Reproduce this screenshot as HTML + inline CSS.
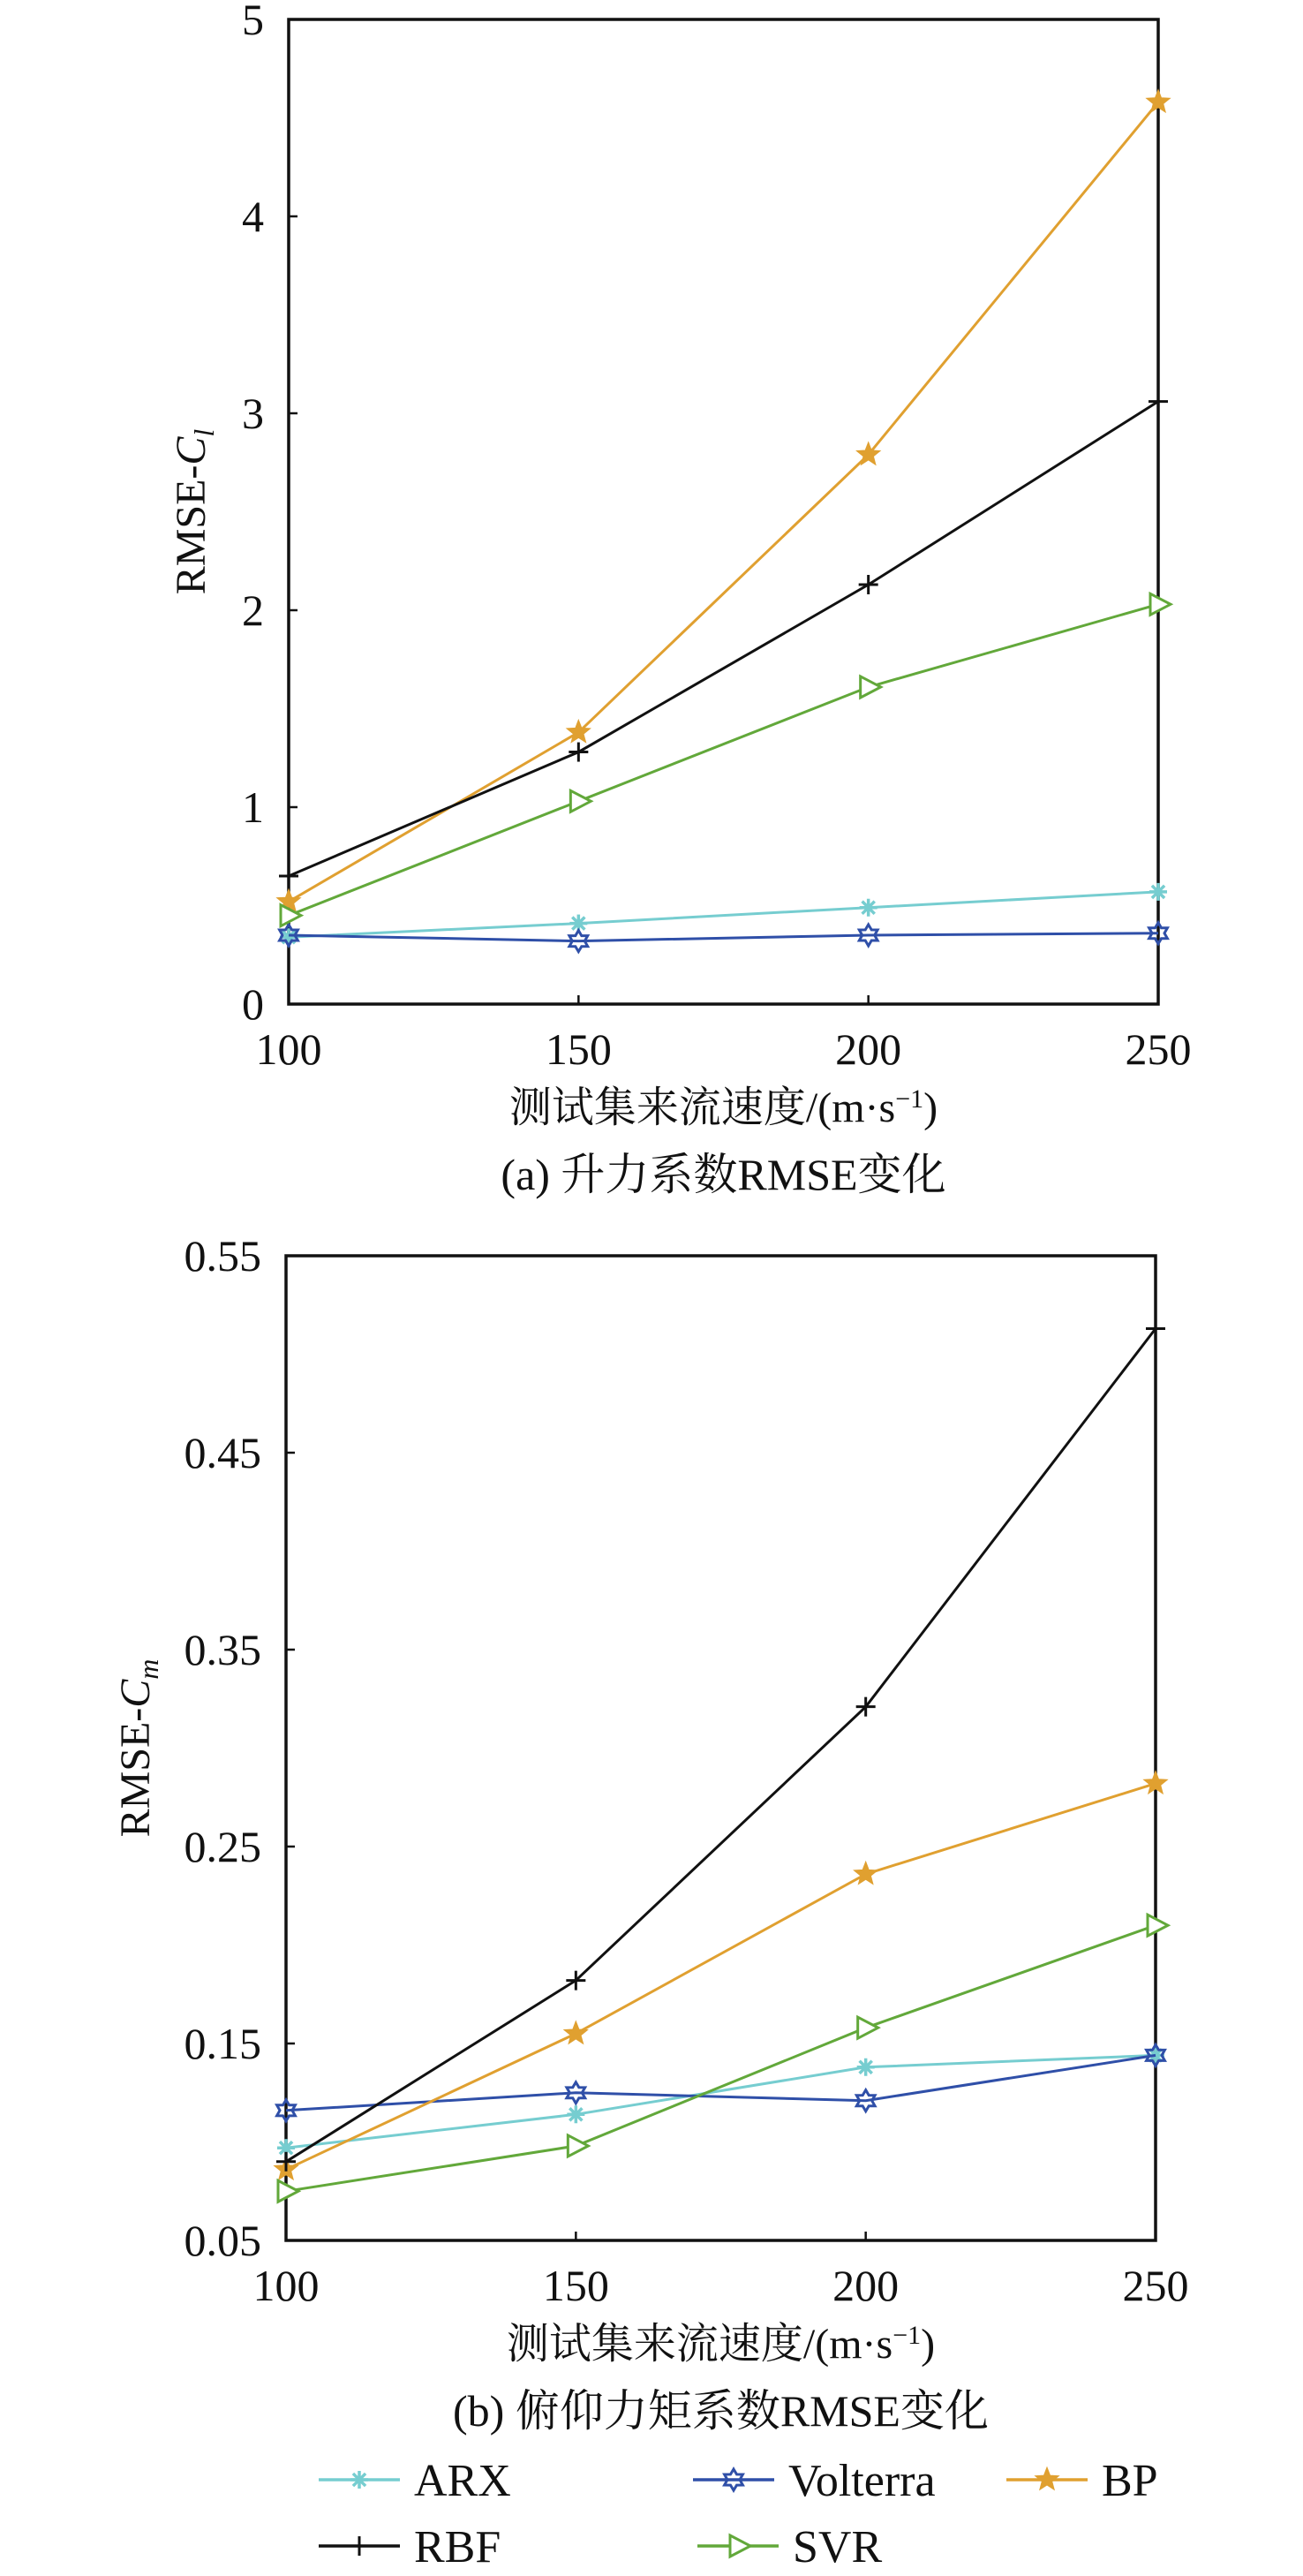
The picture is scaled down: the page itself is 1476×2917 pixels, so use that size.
<!DOCTYPE html>
<html><head><meta charset="utf-8">
<style>
html,body{margin:0;padding:0;background:#fff;}
svg{display:block;}
text{font-family:"Liberation Serif","Noto Serif CJK SC","Noto Sans CJK SC",serif;fill:#111;}
</style></head>
<body>
<svg id="fig" width="1476" height="2917" viewBox="0 0 1476 2917" xmlns="http://www.w3.org/2000/svg"></svg>
<script>
const categories = [100, 150, 200, 250];
const seriesNames = ["ARX", "Volterra", "BP", "RBF", "SVR"];
const clARX = [0.34, 0.41, 0.49, 0.57];
const clVolterra = [0.35, 0.32, 0.35, 0.36];
const clBP = [0.52, 1.38, 2.79, 4.58];
const clRBF = [0.65, 1.28, 2.13, 3.06];
const clSVR = [0.45, 1.03, 1.61, 2.03];
const cmARX = [0.097, 0.114, 0.138, 0.144];
const cmVolterra = [0.116, 0.125, 0.121, 0.144];
const cmBP = [0.086, 0.155, 0.236, 0.282];
const cmRBF = [0.090, 0.182, 0.321, 0.513];
const cmSVR = [0.075, 0.098, 0.158, 0.210];
const clTicks = [0, 1, 2, 3, 4, 5];
const clTickLabels = ["0", "1", "2", "3", "4", "5"];
const cmTicks = [0.05, 0.15, 0.25, 0.35, 0.45, 0.55];
const cmTickLabels = ["0.05", "0.15", "0.25", "0.35", "0.45", "0.55"];

const NS = "http://www.w3.org/2000/svg";
const svg = document.getElementById("fig");
const colors = {ARX:"#76cdd0", Volterra:"#2f4fa8", BP:"#e0a030", RBF:"#111111", SVR:"#62a83a"};
const markerType = {ARX:"asterisk", Volterra:"hexagram", BP:"star", RBF:"plus", SVR:"triangle"};

function mk(tag, attrs, parent){
  const e = document.createElementNS(NS, tag);
  for (const k in attrs) e.setAttribute(k, attrs[k]);
  (parent||svg).appendChild(e);
  return e;
}
function starPts(cx, cy, n, ro, ri, rot){
  const p=[];
  for(let i=0;i<2*n;i++){const r=i%2?ri:ro;const a=rot+i*Math.PI/n;p.push((cx+r*Math.sin(a)).toFixed(1)+","+(cy-r*Math.cos(a)).toFixed(1));}
  return p.join(" ");
}
function marker(g, type, x, y, c){
  let m;
  if(type==="asterisk"){
    m = mk("g",{stroke:c,"stroke-width":3.5},g);
    for(let i=0;i<4;i++){const a=i*Math.PI/4;mk("line",{x1:x-10*Math.cos(a),y1:y-10*Math.sin(a),x2:x+10*Math.cos(a),y2:y+10*Math.sin(a)},m);}
  } else if(type==="hexagram"){
    m = mk("g",{fill:"none",stroke:c,"stroke-width":3},g);
    mk("polygon",{points:starPts(x,y,6,12,7,0)},m);
  } else if(type==="star"){
    m = mk("polygon",{points:starPts(x,y,5,14,6,0),fill:c,stroke:c,"stroke-width":1},g);
  } else if(type==="plus"){
    m = mk("g",{stroke:c,"stroke-width":3},g);
    mk("line",{x1:x-11,y1:y,x2:x+11,y2:y},m);
    mk("line",{x1:x,y1:y-11,x2:x,y2:y+11},m);
  } else {
    m = mk("polygon",{points:`${x-9},${y-12} ${x+14},${y} ${x-9},${y+12}`,fill:"#fff",stroke:c,"stroke-width":3},g);
  }
  return m;
}

function chart(opt){
  const {left,right,top,bottom,ymin,ymax,ticks,tickLabels,data,ylabelSub,ylabelOffset,title,key} = opt;
  const g = mk("g",{});
  
  
  const xs = v => left + (v-categories[0])/(categories[categories.length-1]-categories[0])*(right-left);
  const ys = v => bottom - (v-ymin)/(ymax-ymin)*(bottom-top);
  const frame = mk("rect",{x:left,y:top,width:right-left,height:bottom-top,fill:"none",stroke:"#111","stroke-width":3.5},g);
  
  
  ticks.forEach((t,i)=>{
    const y = ys(t);
    const tl = mk("line",{x1:left,y1:y,x2:left+10,y2:y,stroke:"#111","stroke-width":2.5},g);
    
    
    const tx = mk("text",{x:left-28,y:y+17,"text-anchor":"end","font-size":50},g);
    tx.textContent = tickLabels[i];
    
    
  });
  categories.forEach(c=>{
    const x = xs(c);
    const tl = mk("line",{x1:x,y1:bottom,x2:x,y2:bottom-10,stroke:"#111","stroke-width":2.5},g);
    
    
    const tx = mk("text",{x:x,y:bottom+68,"text-anchor":"middle","font-size":50},g);
    tx.textContent = String(c);
    
    
  });
  const xl = mk("text",{x:(left+right)/2,y:bottom+133,"text-anchor":"middle","font-size":48},g);
  xl.innerHTML = '测试集来流速度/(m·s<tspan dy="-16" font-size="30">−1</tspan><tspan dy="16">)</tspan>';
  
  
  const cy = (top+bottom)/2;
  const yl = mk("text",{x:0,y:0,"text-anchor":"middle","font-size":48,transform:`translate(${left-ylabelOffset},${cy}) rotate(-90)`},g);
  yl.innerHTML = 'RMSE-<tspan font-style="italic">C</tspan><tspan font-style="italic" font-size="32" dy="10">'+ylabelSub+'</tspan>';
  
  
  const tt = mk("text",{x:(left+right)/2,y:bottom+210,"text-anchor":"middle","font-size":50},g);
  tt.textContent = title;
  
  
  seriesNames.forEach((name,si)=>{
    const vals = data[si];
    const c = colors[name];
    const sg = mk("g",{},g);
    
    
    const pts = vals.map((v,i)=>xs(categories[i]).toFixed(1)+","+ys(v).toFixed(1)).join(" ");
    const pl = mk("polyline",{points:pts,fill:"none",stroke:c,"stroke-width":3},sg);
    
    
    vals.forEach((v,i)=>{
      const m = marker(sg, markerType[name], xs(categories[i]), ys(v), c);
      
      
    });
  });
}

chart({left:327,right:1312,top:22,bottom:1137,ymin:0,ymax:5,ticks:clTicks,tickLabels:clTickLabels,
  data:[clARX,clVolterra,clBP,clRBF,clSVR],ylabelSub:"l",ylabelOffset:95,title:"(a) 升力系数RMSE变化",key:"cl"});
chart({left:324,right:1309,top:1422,bottom:2537,ymin:0.05,ymax:0.55,ticks:cmTicks,tickLabels:cmTickLabels,
  data:[cmARX,cmVolterra,cmBP,cmRBF,cmSVR],ylabelSub:"m",ylabelOffset:155,title:"(b) 俯仰力矩系数RMSE变化",key:"cm"});

// legend
const legendPos = [[361,2808],[785,2808],[1140,2808],[361,2883],[790,2883]];
const lg = mk("g",{});


seriesNames.forEach((name,i)=>{
  const [x,y] = legendPos[i];
  const c = colors[name];
  const e = mk("g",{},lg);
  
  
  mk("line",{x1:x,y1:y,x2:x+92,y2:y,stroke:c,"stroke-width":3.5},e);
  marker(e, markerType[name], x+46, y, c);
  const t = mk("text",{x:x+108,y:y+18,"font-size":52},e);
  t.textContent = name;
});
</script>
</body></html>
